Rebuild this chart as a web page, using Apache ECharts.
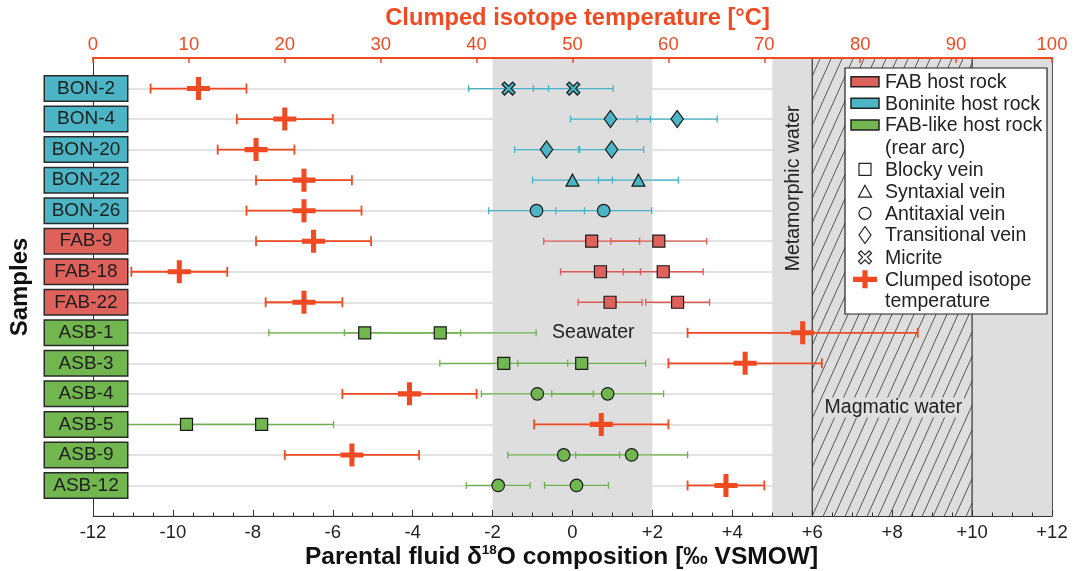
<!DOCTYPE html>
<html><head><meta charset="utf-8">
<script src="https://cdn.jsdelivr.net/npm/echarts@6/dist/echarts.min.js"></script>
<style>html,body{margin:0;padding:0;background:#fff}#c{width:1086px;height:571px}</style>
</head><body><div id="c"></div>
<script>
// ---------------- data ----------------
const samples  = ['BON-2','BON-4','BON-20','BON-22','BON-26','FAB-9','FAB-18','FAB-22','ASB-1','ASB-3','ASB-4','ASB-5','ASB-9','ASB-12'];
const hostRock = ['BON','BON','BON','BON','BON','FAB','FAB','FAB','ASB','ASB','ASB','ASB','ASB','ASB'];
const veinType = ['Micrite','Transitional','Transitional','Syntaxial','Antitaxial','Blocky','Blocky','Blocky','Blocky','Blocky','Antitaxial','Blocky','Antitaxial','Antitaxial'];
// parental fluid d18O (two estimates per sample) and their uncertainty (permil VSMOW)
const d18O_a   = [-1.60, 0.95, -0.65, 0.00, -0.90, 0.48, 0.70, 0.94, -5.20, -1.72, -0.88, -9.66, -0.22, -1.86];
const d18O_b   = [ 0.02, 2.62,  0.98, 1.65,  0.78, 2.16, 2.27, 2.63, -3.31,  0.23,  0.88, -7.78,  1.48,  0.10];
const d18O_err = [ 1.0,  1.0,   0.8,  1.0,   1.2,  1.2,  1.0,  0.8,   2.4,   1.6,   1.4,   1.8,   1.4,   0.8];
// clumped isotope temperature (deg C) and its range
const tempC    = [11, 20, 17, 22, 22, 23,  9, 22, 74, 68, 33, 53, 27, 66];
const tempLow  = [ 6, 15, 13, 17, 16, 17,  4, 18, 62, 60, 26, 46, 20, 62];
const tempHigh = [16, 25, 21, 27, 28, 29, 14, 26, 86, 76, 40, 60, 34, 70];
// tick labels
const xTickLabels = ['-12','-10','-8','-6','-4','-2','0','+2','+4','+6','+8','+10','+12'];
const tTickLabels = ['0','10','20','30','40','50','60','70','80','90','100'];
// water reservoirs (d18O ranges)
const waterBands = [[-2, 2], [5, 12], [6, 10]];
const bandNames  = ['Seawater', 'Metamorphic water', 'Magmatic water'];
const legendLabels = ['FAB host rock','Boninite host rock','FAB-like host rock','(rear arc)','Blocky vein','Syntaxial vein','Antitaxial vein','Transitional vein','Micrite','Clumped isotope','temperature'];

// ---------------- styles ----------------
const FONT = 'Liberation Sans, Arial, Helvetica, sans-serif';
const RED = '#f04a23';
const hostFill = {BON:'#4bb5c5', FAB:'#de625b', ASB:'#72b650'};
const barCol   = {BON:'#45b3c7', FAB:'#de5b53', ASB:'#6cb24b'};
const veinSymbol = {
  Blocky: {symbol:'rect', size:12},
  Syntaxial: {symbol:'triangle', size:[13,12]},
  Antitaxial: {symbol:'circle', size:12.5},
  Transitional: {symbol:'diamond', size:[12.5,17]},
  Micrite: {symbol:'path://M-1,-0.62 L-0.62,-1 L0,-0.38 L0.62,-1 L1,-0.62 L0.38,0 L1,0.62 L0.62,1 L0,0.38 L-0.62,1 L-1,0.62 L-0.38,0 Z', size:13}
};
const crossPath = 'path://M-0.22,-1 L0.22,-1 L0.22,-0.22 L1,-0.22 L1,0.22 L0.22,0.22 L0.22,1 L-0.22,1 L-0.22,0.22 L-1,0.22 L-1,-0.22 L-0.22,-0.22 Z';

// ---------------- series builders ----------------
const errData = [];
samples.forEach((s, i) => {
  errData.push([d18O_a[i] - d18O_err[i], d18O_a[i] + d18O_err[i], i]);
  errData.push([d18O_b[i] - d18O_err[i], d18O_b[i] + d18O_err[i], i]);
});
function errRender(capH, lw, colorFn) {
  return function (params, api) {
    const i = api.value(2);
    const a = api.coord([api.value(0), i]);
    const b = api.coord([api.value(1), i]);
    const c = colorFn(i);
    const st = {stroke: c, lineWidth: lw, fill: null};
    return {type:'group', children:[
      {type:'line', shape:{x1:a[0], y1:a[1], x2:b[0], y2:b[1]}, style:st},
      {type:'line', shape:{x1:a[0], y1:a[1]-capH, x2:a[0], y2:a[1]+capH}, style:st},
      {type:'line', shape:{x1:b[0], y1:b[1]-capH, x2:b[0], y2:b[1]+capH}, style:st}
    ]};
  };
}
const veinSeries = Object.keys(veinSymbol).map(t => {
  const data = [];
  samples.forEach((s, i) => {
    if (veinType[i] !== t) return;
    const col = hostFill[hostRock[i]];
    data.push({value:[d18O_a[i], i], itemStyle:{color:col}});
    data.push({value:[d18O_b[i], i], itemStyle:{color:col}});
  });
  return {type:'scatter', name:t, xAxisIndex:0, yAxisIndex:0, z:4,
    symbol: veinSymbol[t].symbol, symbolSize: veinSymbol[t].size,
    itemStyle:{borderColor:'#1a1a1a', borderWidth:1.2, opacity:1},
    emphasis:{disabled:true}, data};
});

function bandRender(params, api) {
  const idx = api.value(2);
  const p0 = api.coord([api.value(0), -1]);
  const p1 = api.coord([api.value(1), 14]);
  const L = p0[0], R = p1[0], T = Math.min(p0[1], p1[1]), B = Math.max(p0[1], p1[1]);
  const children = [];
  const txt = (pos, rot, bg) => ({type:'text', x:pos[0], y:pos[1], rotation:rot, z2:5,
    style:{text: bandNames[idx], fill:'#222', font:'19.5px ' + FONT, align:'center', verticalAlign:'middle',
      backgroundColor: bg || null, padding: bg ? [0, 2] : 0}});
  if (idx < 2) {
    children.push({type:'rect', shape:{x:L, y:T, width:R-L, height:B-T}, style:{fill:'#dedede'}});
    if (idx === 0) children.push(txt(api.coord([0.52, 8]), 0));
    if (idx === 1) children.push(txt(api.coord([5.54, 3.27]), Math.PI/2));
  } else {
    const H = B - T, k = 0.45, s = 11;
    const st = {stroke:'#333', lineWidth:0.8};
    for (let x0 = L - Math.ceil(H*k/s)*s; x0 < R; x0 += s) {
      let xs = x0, ys = B, xe = x0 + H*k, ye = T;
      if (xs < L) { ys = B - (L - x0)/k; xs = L; }
      if (xe > R) { ye = B - (R - x0)/k; xe = R; }
      if (ys > ye) children.push({type:'line', shape:{x1:xs, y1:ys, x2:xe, y2:ye}, style:st});
    }
    const bst = {stroke:'#333', lineWidth:1.2};
    children.push({type:'line', shape:{x1:L, y1:T, x2:L, y2:B}, style:bst});
    children.push({type:'line', shape:{x1:R, y1:T, x2:R, y2:B}, style:bst});
    children.push(txt(api.coord([8.03, 10.45]), 0, '#dedede'));
  }
  return {type:'group', children};
}

// ---------------- legend (graphic) ----------------
const LX = 845, LY = 68, rowY = [81.7,103.3,125,147.7,169.3,191.7,213.3,235,257.3,279.3,300.7];
const legendEls = [{type:'rect', shape:{x:LX, y:LY, width:202, height:246}, style:{fill:'#fff', stroke:'#222', lineWidth:1.2}}];
['FAB','BON','ASB'].forEach((h, j) => legendEls.push({type:'rect', shape:{x:851, y:rowY[j]-5, width:28, height:10},
  style:{fill:hostFill[h], stroke:'#222', lineWidth:1.5}}));
legendLabels.forEach((t, j) => legendEls.push({type:'text', x:885, y:rowY[j]+1,
  style:{text:t, fill:'#222', font:'19.5px ' + FONT, verticalAlign:'middle'}}));
const cx = 865, ost = {fill:'#fff', stroke:'#222', lineWidth:1.2};
legendEls.push({type:'rect', shape:{x:cx-6, y:rowY[4]-6, width:12, height:12}, style:ost});
legendEls.push({type:'polygon', shape:{points:[[cx, rowY[5]-6.5],[cx+6.5, rowY[5]+5.5],[cx-6.5, rowY[5]+5.5]]}, style:ost});
legendEls.push({type:'circle', shape:{cx:cx, cy:rowY[6], r:6}, style:ost});
legendEls.push({type:'polygon', shape:{points:[[cx, rowY[7]-8.5],[cx+6, rowY[7]],[cx, rowY[7]+8.5],[cx-6, rowY[7]]]}, style:ost});
(function(){
  const u = [[-1,-0.62],[-0.62,-1],[0,-0.38],[0.62,-1],[1,-0.62],[0.38,0],[1,0.62],[0.62,1],[0,0.38],[-0.62,1],[-1,0.62],[-0.38,0]];
  legendEls.push({type:'polygon', shape:{points:u.map(p => [cx + p[0]*6.5, rowY[8] + p[1]*6.5])}, style:ost});
  const w = 12, hh = 9, t = 2.6, y = rowY[9];
  legendEls.push({type:'polygon', shape:{points:[[cx-t,y-hh],[cx+t,y-hh],[cx+t,y-t],[cx+w,y-t],[cx+w,y+t],[cx+t,y+t],[cx+t,y+hh],[cx-t,y+hh],[cx-t,y+t],[cx-w,y+t],[cx-w,y-t],[cx-t,y-t]]},
    style:{fill:RED}});
})();
legendEls.forEach(e => { e.z = 20; e.silent = true; });

// ---------------- option ----------------
const labelRich = {};
Object.keys(hostFill).forEach(h => labelRich[h] = {
  backgroundColor:hostFill[h], borderColor:'#2a2a2a', borderWidth:1.5,
  width:80, height:22, lineHeight:22, padding:[1,1,1,1], align:'center',
  fontSize:19, color:'#1e1e1e', fontFamily:FONT
});

const option = {
  animation:false,
  textStyle:{fontFamily:FONT},
  grid:{left:93, right:34, top:58, bottom:55, containLabel:false, outerBoundsMode:'none'},
  xAxis:[
    {type:'value', position:'bottom', min:-12, max:12, interval:2, z:10,
      axisLine:{show:true, onZero:false, lineStyle:{color:'#333', width:1}},
      axisTick:{show:true, inside:true, length:6, lineStyle:{color:'#333'}},
      minorTick:{show:true, splitNumber:4, length:3.5, lineStyle:{color:'#333'}},
      splitLine:{show:false},
      axisLabel:{fontSize:18.5, color:'#222', margin:7, formatter: v => xTickLabels[Math.round((v + 12) / 2)]},
      name:'Parental fluid δ{sup|18}O composition [‰ VSMOW]', nameLocation:'middle', nameGap:27, nameMoveOverlap:false,
      nameTextStyle:{fontSize:24.5, fontWeight:'bold', color:'#111', lineHeight:28, padding:[0,22,0,0],
        rich:{sup:{fontSize:13.5, fontWeight:'bold', color:'#111', verticalAlign:'top', lineHeight:15}}}
    },
    {type:'value', position:'top', min:0, max:100, interval:10, z:10,
      axisLine:{show:true, onZero:false, lineStyle:{color:RED, width:2}},
      axisTick:{show:true, inside:true, length:5, lineStyle:{color:RED, width:1.5}},
      splitLine:{show:false},
      axisLabel:{fontSize:18.5, color:RED, margin:4, formatter: v => tTickLabels[Math.round(v / 10)]},
      name:'Clumped isotope temperature [°C]', nameLocation:'middle', nameGap:28, nameMoveOverlap:false,
      nameTextStyle:{fontSize:23.7, fontWeight:'bold', color:RED, padding:[0,0,0,10]}
    }
  ],
  yAxis:[
    {type:'value', min:-1, max:14, interval:1, inverse:true, z:0,
      axisLine:{show:false}, axisTick:{show:false}, axisLabel:{show:false},
      splitLine:{show:true, lineStyle:{color:'#e2e2e2', width:2}}},
    {type:'value', min:-1, max:14, interval:1, inverse:true, position:'left', z:10,
      axisLine:{show:true, onZero:false, lineStyle:{color:'#333', width:1}},
      axisTick:{show:false}, splitLine:{show:false},
      axisLabel:{margin:-34, rich:labelRich,
        formatter: v => (v < 0 || v > 13) ? '' : '{' + hostRock[v] + '|' + samples[v] + '}'},
      name:'Samples', nameLocation:'middle', nameGap:56, nameRotate:90,
      nameTextStyle:{fontSize:24, fontWeight:'bold', color:'#111'}},
    {type:'value', min:-1, max:14, interval:1, inverse:true, position:'right', z:10,
      axisLine:{show:true, onZero:false, lineStyle:{color:'#555', width:1}},
      axisTick:{show:false}, axisLabel:{show:false}, splitLine:{show:false}}
  ],
  series:[
    {type:'custom', name:'bands', xAxisIndex:0, yAxisIndex:0, z:1, silent:true,
      renderItem:bandRender, encode:{x:[0,1], y:2},
      data: waterBands.map((b, i) => [b[0], b[1], i])},
    {type:'custom', name:'d18O error', xAxisIndex:0, yAxisIndex:0, z:3, silent:true,
      renderItem: errRender(3.5, 1.3, i => barCol[hostRock[i]]), encode:{x:[0,1], y:2}, data: errData},
    ...veinSeries,
    {type:'custom', name:'T error', xAxisIndex:1, yAxisIndex:0, z:5, silent:true,
      renderItem: errRender(5, 1.8, i => RED), encode:{x:[0,1], y:2},
      data: samples.map((s, i) => [tempLow[i], tempHigh[i], i])},
    {type:'scatter', name:'Clumped isotope temperature', xAxisIndex:1, yAxisIndex:0, z:6,
      symbol:crossPath, symbolSize:23, itemStyle:{color:RED, opacity:1}, emphasis:{disabled:true},
      data: samples.map((s, i) => [tempC[i], i])}
  ],
  graphic:{elements:legendEls}
};
const chart = echarts.init(document.getElementById('c'), null, {renderer:'canvas'});
chart.setOption(option);
</script></body></html>
